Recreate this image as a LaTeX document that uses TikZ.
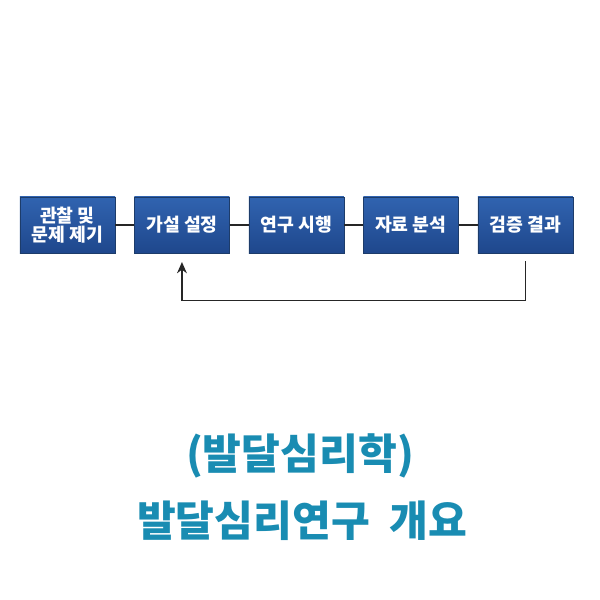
\documentclass[tikz,border=0pt]{standalone}
\usepackage{fontspec}
\setmainfont{Noto Sans CJK KR}
\usetikzlibrary{positioning}
\usetikzlibrary{arrows.meta}
\tikzset{stepbox/.style = {draw=mblue!60!black, line width=0.3pt, top color=mblue, bottom color=mdblue,
                           text=white, font=\fontsize{13}{15}\selectfont\bfseries, align=center,
                           minimum width=2.375cm, minimum height=1.4cm, inner sep=1pt}}
\tikzset{link/.style = {line width=1pt, black!85}}
\tikzset{heading/.style = {text=mteal, font=\fontsize{30}{32}\selectfont\bfseries}}
\definecolor{mblue}{rgb}{0.19, 0.39, 0.69}
\definecolor{mdblue}{rgb}{0.12, 0.28, 0.55}
\definecolor{mteal}{rgb}{0.10, 0.55, 0.70}

\begin{document}
\begin{tikzpicture}[x=0.025cm, y=-0.025cm, node distance=0.475cm]
      \useasboundingbox [fill=white] (0, 0) rectangle (600, 600);

      \node [stepbox] (observe) at (67.5, 225) {관찰 및\\[-2pt]문제 제기};
      \node [stepbox, right=of observe] (hypo) {가설 설정};
      \node [stepbox, right=of hypo] (study) {연구 시행};
      \node [stepbox, right=of study] (data) {자료 분석};
      \node [stepbox, right=of data] (verify) {검증 결과};

      \draw [link] (observe) -- (hypo);
      \draw [link] (hypo) -- (study);
      \draw [link] (study) -- (data);
      \draw [link] (data) -- (verify);

      \coordinate (fromV) at ([yshift=-0.2cm] verify.south);
      \coordinate (toH) at ([yshift=-0.22cm] hypo.south);
      \draw [link, -{Stealth[length=8pt, width=7pt]}] (fromV) -- ++(0, 39) -| (toH);

      \node [heading] (subject) at (300, 456) {(발달심리학)};
      \node [heading] (title) at (302, 521) {발달심리연구~~개요};
    \end{tikzpicture}
\end{document}
